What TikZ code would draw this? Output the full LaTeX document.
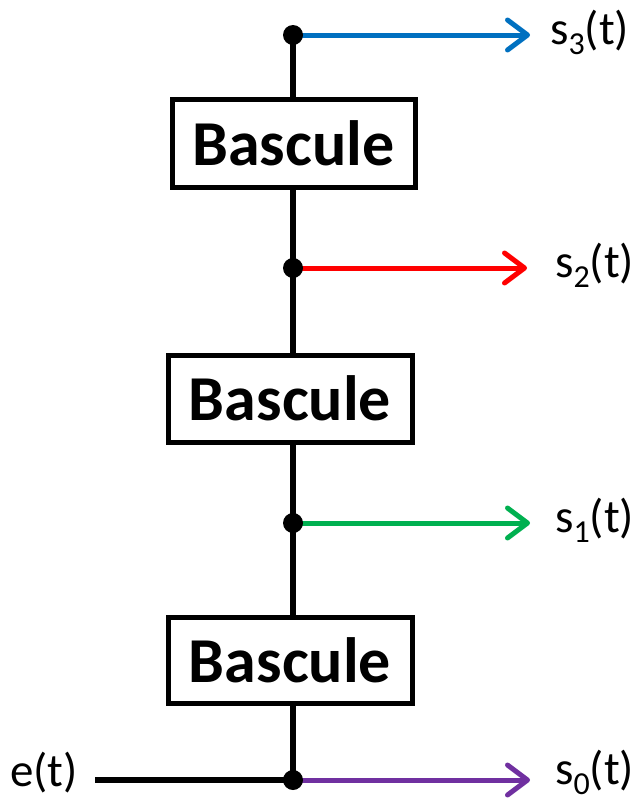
\documentclass[tikz,border=0pt]{standalone}
\usepackage{fontspec}
\setmainfont{Carlito}
\usetikzlibrary{arrows.meta}
\definecolor{cblue}{RGB}{0,112,192}
\definecolor{cred}{RGB}{255,0,0}
\definecolor{cgreen}{RGB}{0,176,80}
\definecolor{cpurple}{RGB}{112,48,160}
\newcommand{\mysub}[1]{\raisebox{-10pt}{\fontsize{32}{32}\selectfont #1}}
\tikzset{
  wire/.style={line width=5.5pt},
  sig/.style={line width=5pt, line cap=round, -{Straight Barb[length=20pt,width=30pt,line cap=round,line join=round]}},
  bascbox/.style={draw, line width=5pt, fill=white, inner sep=0pt, font=\fontsize{64}{64}\selectfont\bfseries},
  junc/.style={circle, fill=black, minimum size=20pt, inner sep=0pt},
  lbl/.style={inner sep=0pt, font=\fontsize{47}{47}\selectfont},
}
\begin{document}
\begin{tikzpicture}[x=1pt,y=-1pt]
\useasboundingbox (0,0) rectangle (636,803);
% junctions
\coordinate (c3) at (293,35);
\coordinate (c2) at (293,268);
\coordinate (c1) at (293,523);
\coordinate (c0) at (293,780);
% main vertical wire (behind boxes)
\draw[wire] (c3) -- (c0);
% boxes
\node[bascbox, minimum width=243pt, minimum height=88pt] (b1) at (293.5,143) {Bascule};
\node[bascbox, minimum width=244pt, minimum height=87pt] (b2) at (290,398.5) {Bascule};
\node[bascbox, minimum width=244pt, minimum height=86pt] (b3) at (290,660) {Bascule};
% input
\node[lbl, anchor=base east] (e) at (78,786) {e(t)};
\path (e.east |- c0) ++(17,0) coordinate (estart);
\draw[wire] (estart) -- (c0);
% outputs
\coordinate (t3) at (530,35);
\coordinate (t2) at (527,268);
\coordinate (t1) at (530,523);
\coordinate (t0) at (530,780);
\draw[sig, cblue] (c3) -- (t3);
\draw[sig, cred] (c2) -- (t2);
\draw[sig, cgreen] (c1) -- (t1);
\draw[sig, cpurple] (c0) -- (t0);
\node[lbl, anchor=base west] (s3) at (550,44) {s\mysub{3}(t)};
\node[lbl, anchor=base west] (s2) at (555,277) {s\mysub{2}(t)};
\node[lbl, anchor=base west] (s1) at (555,532) {s\mysub{1}(t)};
\node[lbl, anchor=base west] (s0) at (555,784) {s\mysub{0}(t)};
% dots
\node[junc] (d3) at (c3) {};
\node[junc] (d2) at (c2) {};
\node[junc] (d1) at (c1) {};
\node[junc] (d0) at (c0) {};
\end{tikzpicture}
\end{document}
